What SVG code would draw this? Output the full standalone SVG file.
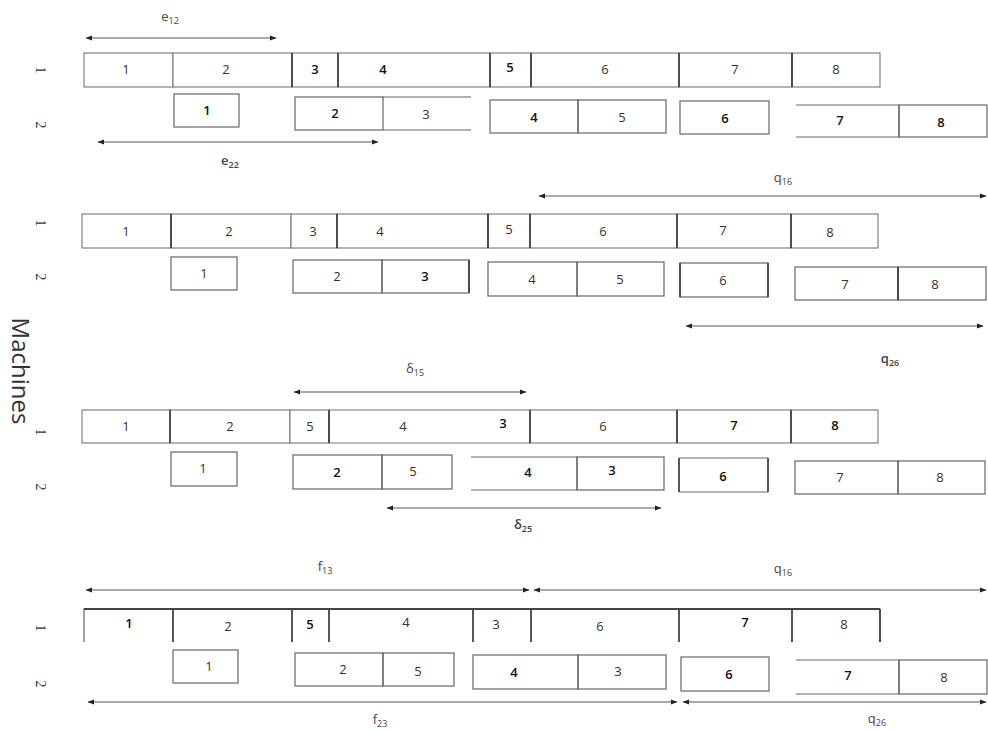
<svg xmlns="http://www.w3.org/2000/svg" width="988" height="731" viewBox="0 0 988 731">
<defs>
<marker id="ah" markerWidth="7" markerHeight="6" refX="6" refY="3" orient="auto-start-reverse" markerUnits="userSpaceOnUse">
<path d="M0,0.5 L6.5,3 L0,5.5 Z" fill="#222"/>
</marker>
<style>
.c{fill:#fff;stroke:#777;stroke-width:1.1}
.o{fill:none;stroke:#666;stroke-width:1.2}
.k{fill:none;stroke:#444;stroke-width:1.8}
.t{font-family:"Open Sans","Liberation Sans",sans-serif;font-size:13px;fill:#333;text-anchor:middle}
.b{font-weight:600;fill:#111}
.a{fill:none;stroke:#555;stroke-width:1;marker-start:url(#ah);marker-end:url(#ah)}
.l{font-family:"Open Sans","Liberation Sans",sans-serif;font-size:13px;fill:#444;text-anchor:middle}
.s{font-size:9px}
.r{font-family:"Liberation Serif",serif;font-size:14px;fill:#333;text-anchor:middle}
</style>
</defs>
<rect width="988" height="731" fill="#fff"/>
<text id="ylabel" transform="translate(12,371) rotate(90)" font-family="'Open Sans','Liberation Sans',sans-serif" font-size="24" fill="#333" text-anchor="middle">Machines</text>
<g id="rowlabels">
<text class="r" transform="translate(36,70) rotate(90)">1</text>
<text class="r" transform="translate(36,125) rotate(90)">2</text>
<text class="r" transform="translate(36,223) rotate(90)">1</text>
<text class="r" transform="translate(36,277) rotate(90)">2</text>
<text class="r" transform="translate(36,432) rotate(90)">1</text>
<text class="r" transform="translate(36,487) rotate(90)">2</text>
<text class="r" transform="translate(36,628) rotate(90)">1</text>
<text class="r" transform="translate(36,684) rotate(90)">2</text>
</g>
<!-- Schedule 1 -->
<g id="s1m1">
<g id="s1m1j1"><rect class="c" x="84" y="53" width="89" height="34"/><text class="t" x="126" y="74">1</text></g>
<g id="s1m1j2"><rect class="c" x="173" y="53" width="119" height="34"/><text class="t" x="226" y="74">2</text></g>
<g id="s1m1j3"><rect class="c" x="292" y="53" width="46" height="34"/><text class="t b" x="315" y="74">3</text></g>
<g id="s1m1j4"><rect class="c" x="338" y="53" width="152" height="34"/><text class="t b" x="383" y="74">4</text></g>
<g id="s1m1j5"><rect class="c" x="490" y="53" width="41" height="34"/><text class="t b" x="510" y="72">5</text></g>
<g id="s1m1j6"><rect class="c" x="531" y="53" width="148" height="34"/><text class="t" x="605" y="74">6</text></g>
<g id="s1m1j7"><rect class="c" x="679" y="53" width="113" height="34"/><text class="t" x="735" y="74">7</text></g>
<g id="s1m1j8"><rect class="c" x="792" y="53" width="88" height="34"/><text class="t" x="836" y="74">8</text></g>
<path class="k" d="M292,53V87M338,53V87M490,53V87M531,53V87M679,53V87M792,53V87"/>
</g>
<g id="s1m2">
<g id="s1m2j1"><rect class="o" x="174" y="94" width="65" height="33"/><text class="t b" x="207" y="115">1</text></g>
<g id="s1m2j2"><rect class="o" x="295" y="97" width="88" height="33"/><text class="t b" x="335" y="118">2</text></g>
<g id="s1m2j3"><path class="o" d="M383,97H471M383,130H471"/><text class="t" x="426" y="119">3</text></g>
<g id="s1m2j4"><rect class="o" x="490" y="100" width="88" height="33"/><text class="t b" x="534" y="122">4</text></g>
<g id="s1m2j5"><rect class="o" x="578" y="100" width="88" height="33"/><text class="t" x="622" y="122">5</text></g>
<g id="s1m2j6"><rect class="o" x="680" y="101" width="89" height="33"/><text class="t b" x="725" y="123">6</text></g>
<g id="s1m2j7"><path class="o" d="M796,105H899V137H796"/><text class="t b" x="840" y="125">7</text></g>
<g id="s1m2j8"><rect class="o" x="899" y="105" width="88" height="32"/><text class="t b" x="941" y="127">8</text></g>
</g>
<!-- Schedule 2 -->
<g id="s2m1">
<g id="s2m1j1"><rect class="c" x="82" y="214" width="89" height="34"/><text class="t" x="126" y="236">1</text></g>
<g id="s2m1j2"><rect class="c" x="171" y="214" width="120" height="34"/><text class="t" x="229" y="236">2</text></g>
<g id="s2m1j3"><rect class="c" x="291" y="214" width="46" height="34"/><text class="t" x="313" y="236">3</text></g>
<g id="s2m1j4"><rect class="c" x="337" y="214" width="151" height="34"/><text class="t" x="380" y="236">4</text></g>
<g id="s2m1j5"><rect class="c" x="488" y="214" width="42" height="34"/><text class="t" x="509" y="234">5</text></g>
<g id="s2m1j6"><rect class="c" x="530" y="214" width="147" height="34"/><text class="t" x="603" y="236">6</text></g>
<g id="s2m1j7"><rect class="c" x="677" y="214" width="114" height="34"/><text class="t" x="723" y="235">7</text></g>
<g id="s2m1j8"><rect class="c" x="791" y="214" width="87" height="34"/><text class="t" x="830" y="237">8</text></g>
<path class="k" d="M171,214V248M337,214V248M488,214V248M530,214V248M677,214V248M791,214V248"/>
</g>
<g id="s2m2">
<g id="s2m2j1"><rect class="o" x="171" y="257" width="66" height="33"/><text class="t" x="204" y="278">1</text></g>
<g id="s2m2j2"><rect class="o" x="293" y="260" width="89" height="33"/><text class="t" x="337" y="281">2</text></g>
<g id="s2m2j3"><rect class="o" x="382" y="260" width="87" height="33"/><text class="t b" x="425" y="281">3</text></g>
<g id="s2m2j4"><rect class="o" x="488" y="262" width="89" height="34"/><text class="t" x="532" y="284">4</text></g>
<g id="s2m2j5"><rect class="o" x="577" y="262" width="87" height="34"/><text class="t" x="620" y="284">5</text></g>
<g id="s2m2j6"><rect class="o" x="680" y="263" width="88" height="34"/><text class="t" x="723" y="285">6</text></g>
<g id="s2m2j7"><rect class="o" x="795" y="267" width="103" height="33"/><text class="t" x="845" y="289">7</text></g>
<g id="s2m2j8"><rect class="o" x="898" y="267" width="88" height="33"/><text class="t" x="935" y="289">8</text></g>
<path class="k" d="M680,263V297M768,263V297M898,267V300M469,260V293"/>
</g>
<!-- Schedule 3 -->
<g id="s3m1">
<g id="s3m1j1"><rect class="c" x="82" y="410" width="88" height="33"/><text class="t" x="126" y="431">1</text></g>
<g id="s3m1j2"><rect class="c" x="170" y="410" width="120" height="33"/><text class="t" x="230" y="431">2</text></g>
<g id="s3m1j5"><rect class="c" x="290" y="410" width="39" height="33"/><text class="t" x="310" y="431">5</text></g>
<g id="s3m1j4"><path class="c" d="M329,410H473M329,443H473M329,410V443"/><text class="t" x="403" y="431">4</text></g>
<g id="s3m1j3"><path class="c" d="M473,410H530V443H473"/><text class="t b" x="503" y="428">3</text></g>
<g id="s3m1j6"><rect class="c" x="530" y="410" width="147" height="33"/><text class="t" x="603" y="431">6</text></g>
<g id="s3m1j7"><rect class="c" x="677" y="410" width="114" height="33"/><text class="t b" x="734" y="430">7</text></g>
<g id="s3m1j8"><rect class="c" x="791" y="410" width="87" height="33"/><text class="t b" x="835" y="430">8</text></g>
<path class="k" d="M170,410V443M329,410V443M530,410V443M677,410V443M791,410V443"/>
</g>
<g id="s3m2">
<g id="s3m2j1"><rect class="o" x="171" y="452" width="66" height="34"/><text class="t" x="203" y="473">1</text></g>
<g id="s3m2j2"><rect class="o" x="293" y="455" width="89" height="34"/><text class="t b" x="337" y="477">2</text></g>
<g id="s3m2j5"><rect class="o" x="382" y="455" width="70" height="34"/><text class="t" x="413" y="476">5</text></g>
<g id="s3m2j4"><path class="o" d="M471,457H577V490H471"/><text class="t b" x="528" y="477">4</text></g>
<g id="s3m2j3"><rect class="o" x="577" y="457" width="87" height="33"/><text class="t b" x="612" y="475">3</text></g>
<g id="s3m2j6"><path class="o" d="M679,458H768M679,492H768"/><path class="k" d="M679,458V492M768,458V492"/><text class="t b" x="723" y="481">6</text></g>
<g id="s3m2j7"><rect class="o" x="795" y="461" width="103" height="33"/><text class="t" x="840" y="482">7</text></g>
<g id="s3m2j8"><rect class="o" x="898" y="461" width="87" height="33"/><text class="t" x="940" y="482">8</text></g>
</g>
<!-- Schedule 4 -->
<g id="s4m1">
<g id="s4m1j1"><path class="o" d="M84,642V609H173"/><text class="t b" x="129" y="628">1</text></g>
<g id="s4m1j2"><path class="o" d="M173,609H292"/><text class="t" x="228" y="631">2</text></g>
<g id="s4m1j5"><path class="o" d="M292,609H329"/><text class="t b" x="310" y="629">5</text></g>
<g id="s4m1j4"><path class="o" d="M329,609H473"/><text class="t" x="406" y="627">4</text></g>
<g id="s4m1j3"><path class="o" d="M473,609H531"/><text class="t" x="496" y="629">3</text></g>
<g id="s4m1j6"><path class="o" d="M531,609H679"/><text class="t" x="600" y="631">6</text></g>
<g id="s4m1j7"><path class="o" d="M679,609H792"/><text class="t b" x="745" y="627">7</text></g>
<g id="s4m1j8"><path class="o" d="M792,609H880V642"/><text class="t" x="844" y="629">8</text></g>
<path class="k" d="M84,609H880M173,609V642M292,609V642M329,609V642M473,609V642M531,609V642M679,609V642M792,609V642M880,609V642"/>
</g>
<g id="s4m2">
<g id="s4m2j1"><rect class="o" x="173" y="650" width="65" height="33"/><text class="t" x="209" y="671">1</text></g>
<g id="s4m2j2"><rect class="o" x="295" y="653" width="88" height="33"/><text class="t" x="343" y="674">2</text></g>
<g id="s4m2j5"><rect class="o" x="383" y="653" width="71" height="33"/><text class="t" x="418" y="676">5</text></g>
<g id="s4m2j4"><rect class="o" x="473" y="655" width="105" height="34"/><text class="t b" x="514" y="677">4</text></g>
<g id="s4m2j3"><rect class="o" x="578" y="655" width="88" height="34"/><text class="t" x="618" y="676">3</text></g>
<g id="s4m2j6"><rect class="o" x="681" y="657" width="88" height="34"/><text class="t b" x="729" y="679">6</text></g>
<g id="s4m2j7"><path class="o" d="M796,660H899V694H796"/><text class="t b" x="848" y="680">7</text></g>
<g id="s4m2j8"><rect class="o" x="899" y="660" width="88" height="34"/><text class="t" x="944" y="682">8</text></g>
</g>
<!-- Connectors -->
<g id="connectors">
<path class="a" d="M86,38H276"/>
<path class="a" d="M98,142H378" stroke-width="1.4"/>
<path class="a" d="M539,196H986"/>
<path class="a" d="M686,326H983"/>
<path class="a" d="M294,392H526"/>
<path class="a" d="M387,508H661" stroke-width="1.4"/>
<path class="a" d="M86,590H529" stroke="#aaa"/>
<path class="a" d="M534,590H986" stroke="#aaa"/>
<path class="a" d="M88,702H677"/>
<path class="a" d="M683,702H986" stroke-width="1.4"/>
</g>
<g id="connector-labels">
<text class="l" x="170" y="21">e<tspan class="s" dy="3">12</tspan></text>
<text class="l b" x="230" y="165">e<tspan class="s" dy="3">22</tspan></text>
<text class="l" x="783" y="182">q<tspan class="s" dy="3">16</tspan></text>
<text class="l b" x="890" y="363">q<tspan class="s" dy="3">26</tspan></text>
<text class="l" x="415" y="373">δ<tspan class="s" dy="3">15</tspan></text>
<text class="l b" x="523" y="529">δ<tspan class="s" dy="3">25</tspan></text>
<text class="l" x="325" y="571">f<tspan class="s" dy="3">13</tspan></text>
<text class="l" x="783" y="573">q<tspan class="s" dy="3">16</tspan></text>
<text class="l" x="380" y="724">f<tspan class="s" dy="3">23</tspan></text>
<text class="l" x="877" y="723">q<tspan class="s" dy="3">26</tspan></text>
</g>
</svg>
